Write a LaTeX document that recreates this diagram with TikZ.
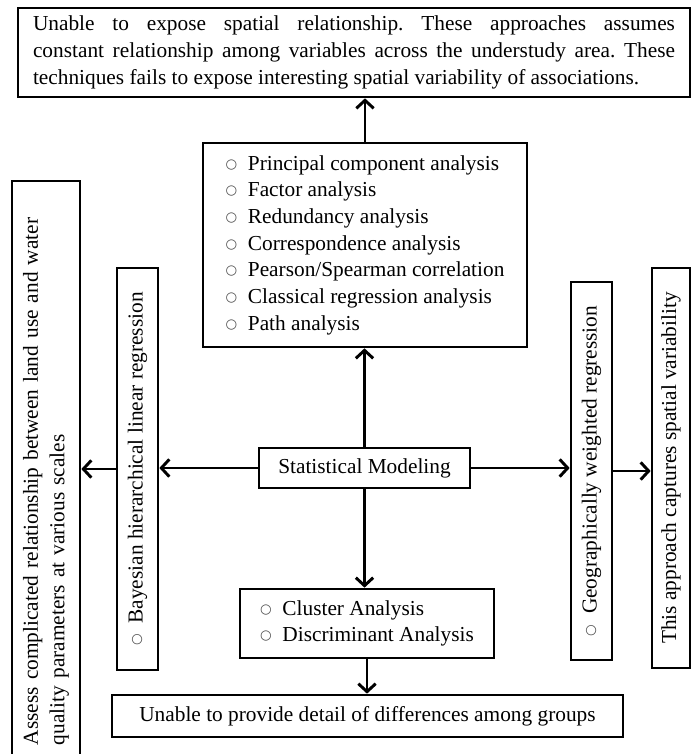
\documentclass[tikz,border=0pt]{standalone}
\usepackage{fontspec}
\setmainfont{Liberation Serif}
\newfontfamily\bulfont{DejaVu Sans}
\usetikzlibrary{arrows.meta, positioning}
\newcommand{\bul}{\raisebox{1.5pt}{\bulfont\fontsize{10}{10}\selectfont\color{black!70}○}\hspace{8pt}}
\frenchspacing

\begin{document}
\begin{tikzpicture}[x=0.75pt, y=-0.75pt,
    every node/.style={font=\fontsize{16}{20}\selectfont},
    box/.style={draw, line width=2pt, inner sep=0pt},
    vbox/.style={box, rotate=90, minimum height=30.75pt},
    link/.style={line width=2pt, -{Straight Barb[length=6pt, width=13pt, line width=2.2pt]}}]
    % Frame
    \useasboundingbox (0,0) rectangle (696,754);
    \clip (0,0) rectangle (696,754);

    % Central node
    \node[box, minimum width=158.25pt, minimum height=30pt] (stat) at (364.5,468) {Statistical Modeling};

    % Global methods and their drawback
    \node[box, align=left, minimum width=243pt, minimum height=153pt] (global) at (365,245)
        {\bul Principal component analysis\\
         \bul Factor analysis\\
         \bul Redundancy analysis\\
         \bul Correspondence analysis\\
         \bul Pearson/Spearman correlation\\
         \bul Classical regression analysis\\
         \bul Path analysis};
    \node[box, text width=481.5pt, align=justify, inner xsep=11.25pt, minimum height=66.75pt] (nospatial) at (354,52.5)
        {Unable to expose spatial relationship. These approaches assumes\linebreak
         constant relationship among variables across the understudy area. These\linebreak
         techniques fails to expose interesting spatial variability of associations.};

    % Grouping methods
    \node[box, align=left, minimum width=190.5pt, minimum height=51.75pt] (group) at (367,623.5)
        {\bul Cluster Analysis\\
         \bul Discriminant Analysis};
    \node[box, minimum width=383.25pt, minimum height=31.5pt] (nodetail) at (367.5,716)
        {Unable to provide detail of differences among groups};

    % Bayesian branch
    \node[vbox, minimum width=301.5pt] (bayes) at (137.5,469) {\bul Bayesian hierarchical linear regression};
    \node[box, rotate=90, align=left, text width=414pt, inner xsep=9pt, minimum height=51pt] (assess) at (46,469)
        {Assess complicated relationship between land use and water\\
         quality parameters at various scales};

    % Local branch
    \node[vbox, minimum width=283.5pt] (gwr) at (591.5,471) {\bul Geographically weighted regression};
    \node[vbox, minimum width=300pt, minimum height=28.5pt] (captures) at (671,468) {This approach captures spatial variability};

    % Connectors
    \draw[link] (stat.north) -- (stat.north |- global.south);
    \draw[link] (global.north) -- (global.north |- nospatial.south);
    \draw[link] (stat.south) -- (stat.south |- group.north);
    \draw[link] (group.south) -- (group.south |- nodetail.north);
    \draw[link] (stat.west) -- (stat.west -| bayes.south);
    \draw[link] (bayes.north) -- (bayes.north -| assess.south);
    \draw[link] (stat.east) -- (stat.east -| gwr.north);
    \draw[link] (gwr.south) -- (gwr.south -| captures.north);
\end{tikzpicture}
\end{document}
